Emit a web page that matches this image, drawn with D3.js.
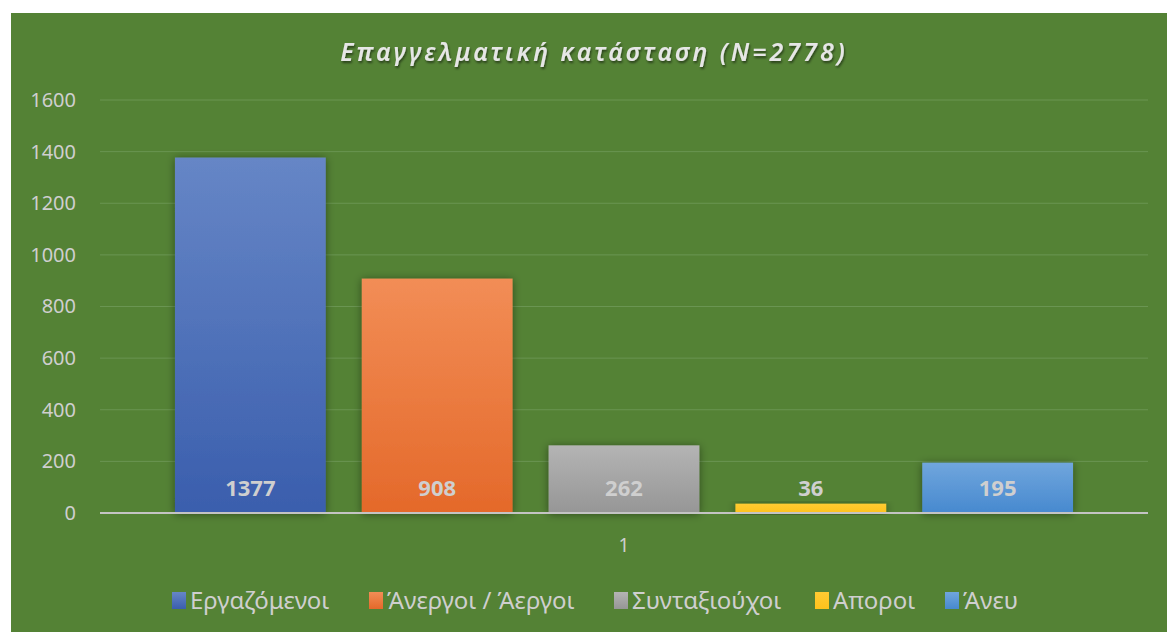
<!DOCTYPE html>
<html>
<head>
  <meta charset="utf-8">
  <title>Επαγγελματική κατάσταση</title>
  <style>
    body { margin: 0; background: #fff; }
    svg { display: block; font-family: "Noto Sans", sans-serif; }
  </style>
</head>
<body>
  <svg width="1167" height="632"></svg>
  <script src="https://d3js.org/d3.v7.min.js"></script>
  <script>
    // data
    var categories = ["1"];
    var seriesNames = ["Εργαζόμενοι", "Άνεργοι / Άεργοι", "Συνταξιούχοι", "Αποροι", "Άνευ"];
    var seriesValues = [1377, 908, 262, 36, 195];
    var yTicks = [0, 200, 400, 600, 800, 1000, 1200, 1400, 1600];
    var seriesTop = ["#6686c6", "#f28d56", "#b4b4b4", "#ffcb33", "#70a6dd"];
    var seriesBottom = ["#3a5ead", "#e4692a", "#969696", "#fdc21c", "#4789cf"];

    var svg = d3.select("svg");
    var plotLeft = 100, plotRight = 1148, plotTop = 100, plotBottom = 513;

    var defs = svg.append("defs");
    seriesNames.forEach(function (s, i) {
      var g = defs.append("linearGradient").attr("id", "g" + i)
        .attr("x1", 0).attr("y1", 0).attr("x2", 0).attr("y2", 1);
      g.append("stop").attr("offset", "0%").attr("stop-color", seriesTop[i]);
      g.append("stop").attr("offset", "100%").attr("stop-color", seriesBottom[i]);
    });
    var f = defs.append("filter").attr("id", "shadow")
      .attr("x", "-20%").attr("y", "-20%").attr("width", "140%").attr("height", "140%");
    f.append("feDropShadow").attr("dx", 0).attr("dy", 1).attr("stdDeviation", 4)
      .attr("flood-color", "#000").attr("flood-opacity", 0.45);
    var tf = defs.append("filter").attr("id", "tshadow");
    tf.append("feDropShadow").attr("dx", 1).attr("dy", 2).attr("stdDeviation", 1)
      .attr("flood-color", "#000").attr("flood-opacity", 0.5);

    // background
    svg.append("rect").attr("x", 11).attr("y", 13).attr("width", 1156).attr("height", 619)
      .attr("fill", "#548235");

    var y = d3.scaleLinear().domain([0, 1600]).range([plotBottom, plotTop]);
    var x0 = d3.scaleBand().domain(categories).range([plotLeft, plotRight]).paddingOuter(0.0835);
    var x1 = d3.scaleBand().domain(seriesNames).range([0, x0.bandwidth()]).paddingInner(0.193);

    // gridlines
    svg.append("g").selectAll("line").data(yTicks.slice(1)).enter().append("line")
      .attr("x1", plotLeft).attr("x2", plotRight)
      .attr("y1", function (d) { return y(d); }).attr("y2", function (d) { return y(d); })
      .attr("stroke", "#6a9552").attr("stroke-width", 1);

    // y axis
    var yAxis = svg.append("g").attr("transform", "translate(" + plotLeft + ",0)")
      .call(d3.axisLeft(y).tickValues(yTicks).tickFormat(d3.format("d")).tickSize(0).tickPadding(24));
    yAxis.select(".domain").remove();
    yAxis.selectAll("text").attr("fill", "#cfcfcf").style("font-size", "20px")
      .style("font-family", "Noto Sans, sans-serif");

    // bars
    var cat = svg.append("g").selectAll("g").data(categories).enter().append("g")
      .attr("transform", function (d) { return "translate(" + x0(d) + ",0)"; });
    cat.selectAll("rect").data(seriesValues).enter().append("rect")
      .attr("x", function (d, i) { return x1(seriesNames[i]); })
      .attr("y", function (d) { return y(d); })
      .attr("width", x1.bandwidth())
      .attr("height", function (d) { return y(0) - y(d); })
      .attr("fill", function (d, i) { return "url(#g" + i + ")"; })
      .attr("filter", "url(#shadow)");

    // zero line
    svg.append("line").attr("x1", plotLeft).attr("x2", plotRight).attr("y1", y(0)).attr("y2", y(0))
      .attr("stroke", "#c4c4c4").attr("stroke-width", 2);

    // value labels
    cat.selectAll("text.val").data(seriesValues).enter().append("text").attr("class", "val")
      .attr("x", function (d, i) { return x1(seriesNames[i]) + x1.bandwidth() / 2; })
      .attr("y", y(0) - 17)
      .attr("text-anchor", "middle")
      .attr("fill", "#cfcfcf").style("font-size", "22px").style("font-weight", "bold")
      .text(function (d) { return d; });

    // x axis category label
    var xAxis = svg.append("g").attr("transform", "translate(0," + plotBottom + ")")
      .call(d3.axisBottom(x0).tickSize(0).tickPadding(26));
    xAxis.select(".domain").remove();
    xAxis.selectAll("text").attr("fill", "#cfcfcf").style("font-size", "19px")
      .style("font-family", "Noto Sans, sans-serif");

    // title
    svg.append("text").attr("x", 594).attr("y", 61).attr("text-anchor", "middle")
      .attr("fill", "#e6e6e6").style("font-size", "25px").style("font-style", "italic")
      .style("font-weight", "600")
      .style("letter-spacing", "3px").attr("filter", "url(#tshadow)")
      .text("Επαγγελματική κατάσταση (N=2778)");

    // legend
    var legend = svg.append("g");
    var lx = [172, 369, 614, 815, 945];
    seriesNames.forEach(function (s, i) {
      var g = legend.append("g").attr("transform", "translate(" + lx[i] + ",592)");
      g.append("rect").attr("width", 14).attr("height", 17).attr("fill", "url(#g" + i + ")");
      g.append("text").attr("x", 18).attr("y", 17).attr("fill", "#cfcfcf")
        .style("font-size", "24px").text(s);
    });
  </script>
</body>
</html>
